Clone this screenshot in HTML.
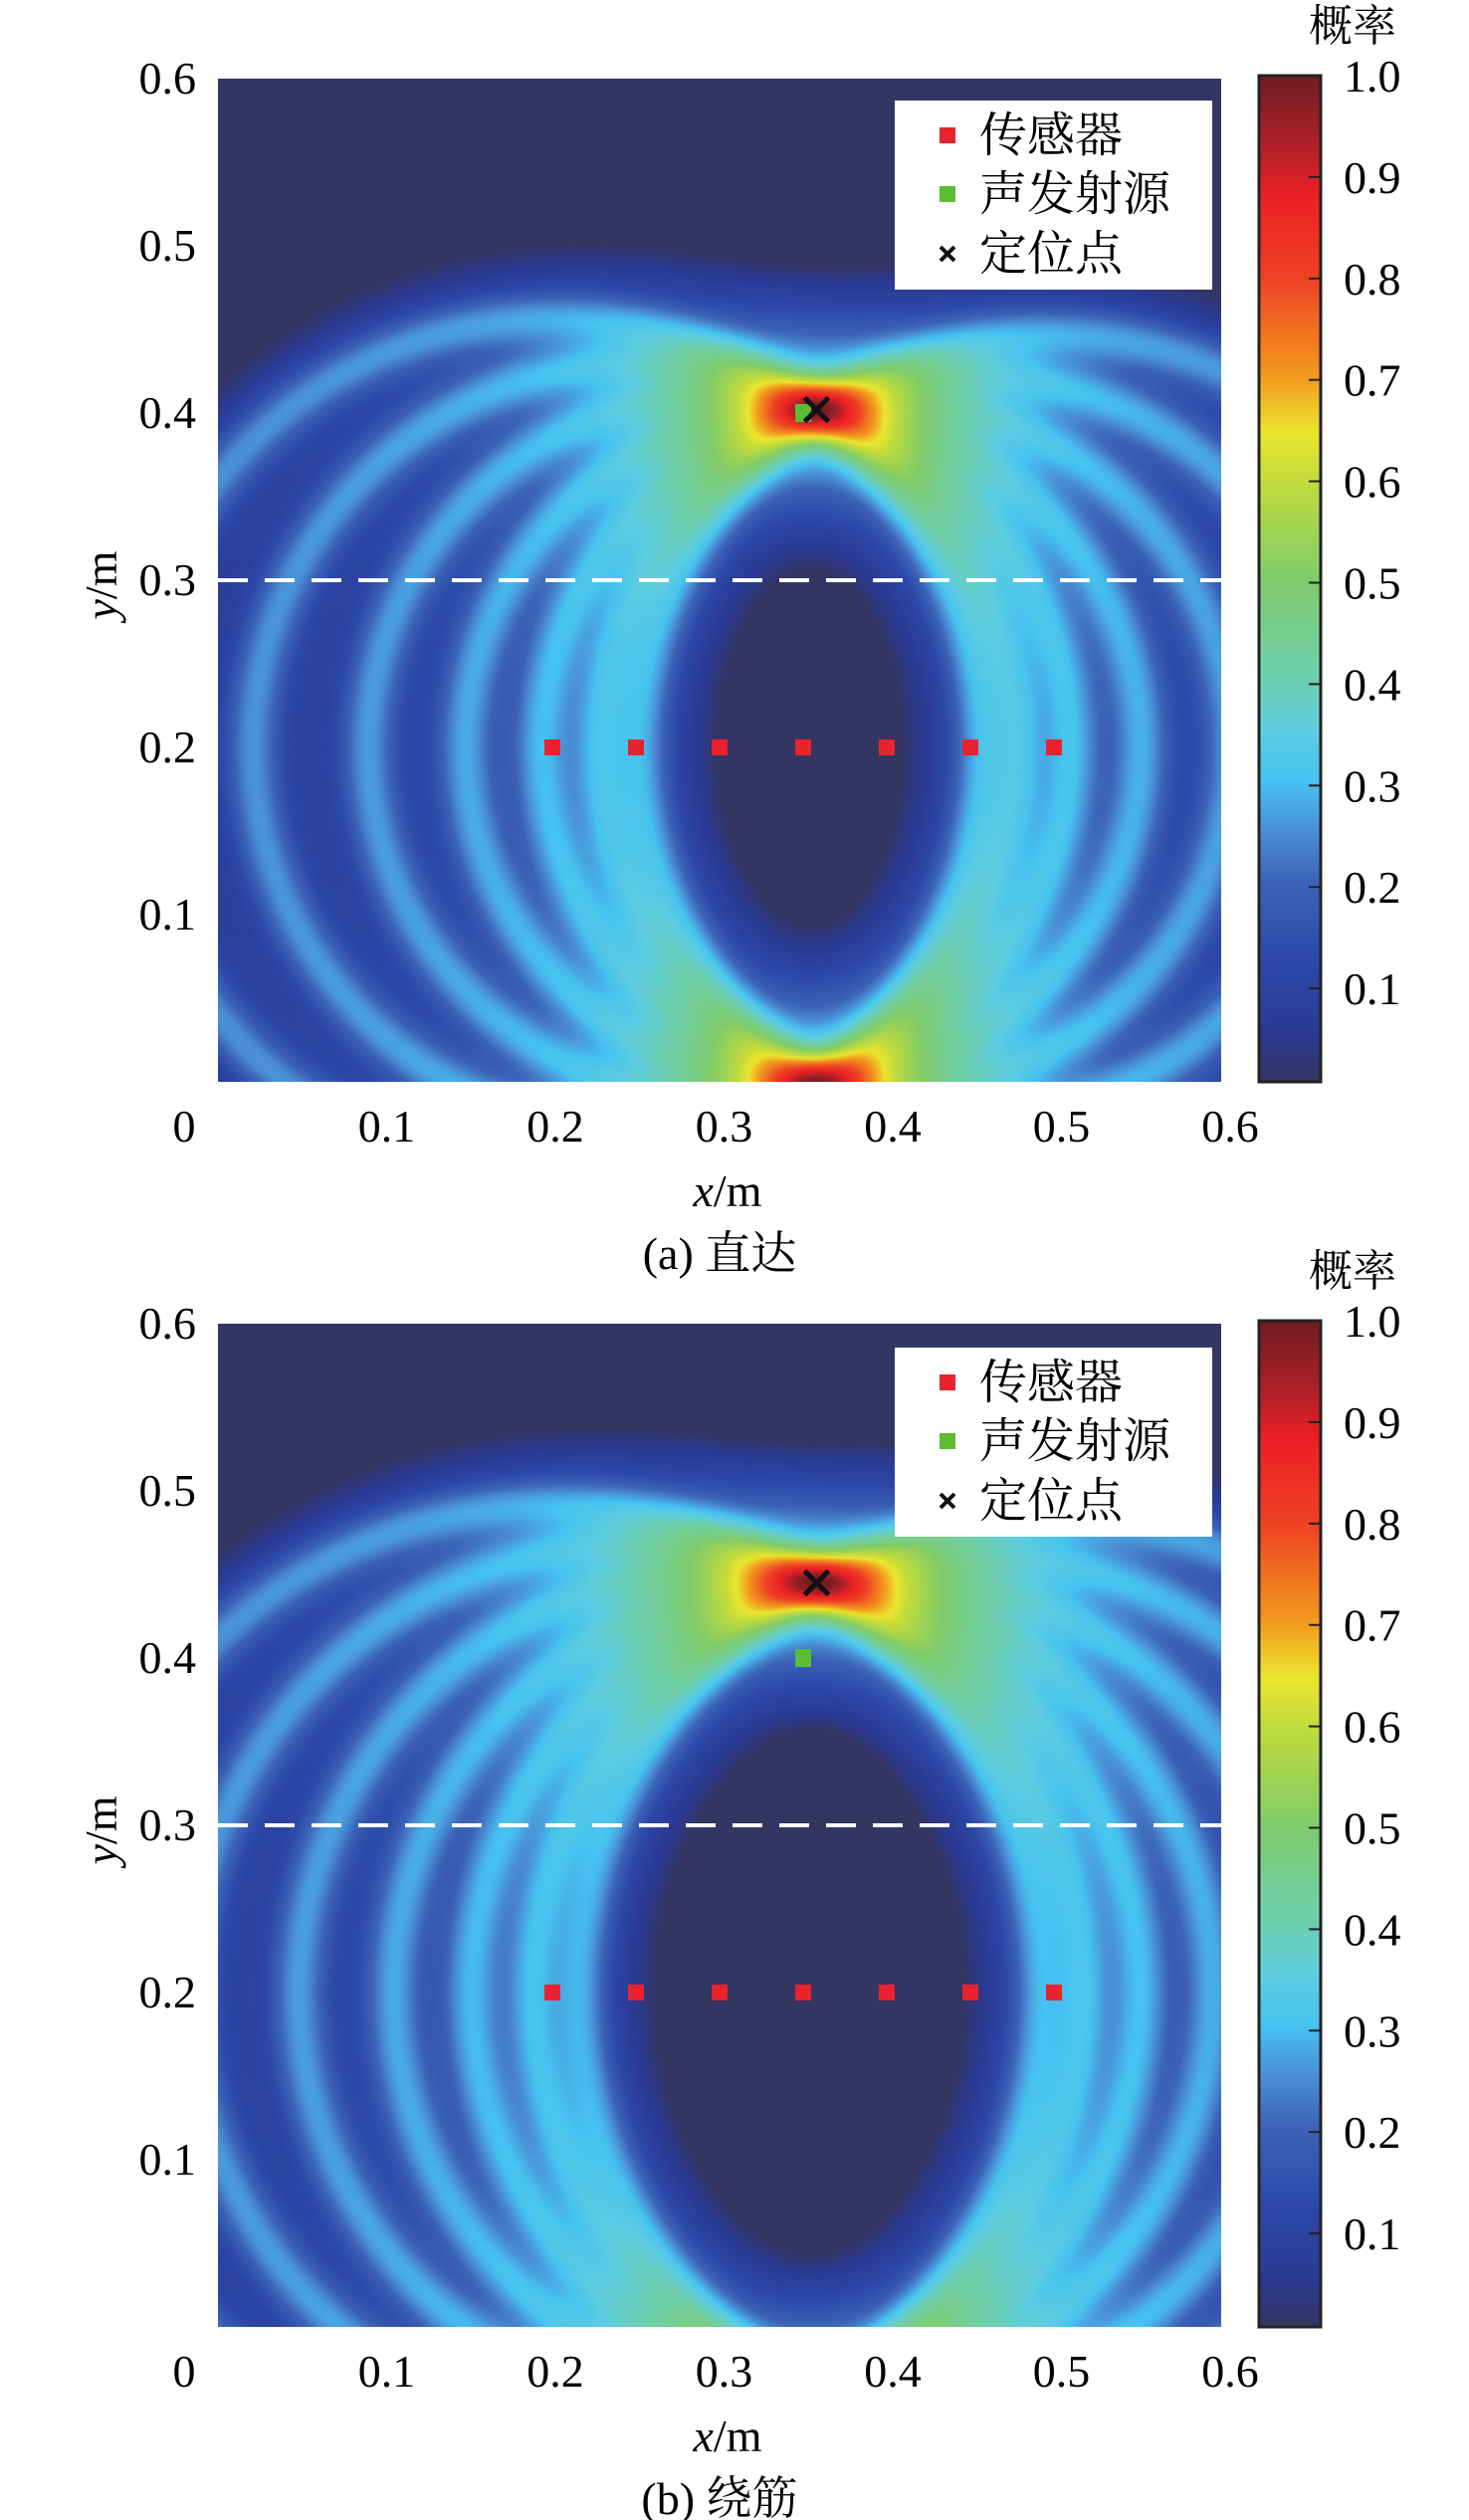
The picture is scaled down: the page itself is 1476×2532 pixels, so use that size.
<!DOCTYPE html>
<html><head><meta charset="utf-8">
<style>
html,body{margin:0;padding:0;background:#fff;}
#root{position:relative;width:1476px;height:2532px;overflow:hidden;background:#fff;font-family:"Liberation Serif","Noto Serif CJK SC",serif;color:#1a1a1a;}
canvas{position:absolute;}
svg{position:absolute;left:0;top:0;}
</style></head>
<body>
<div id="root">
<canvas id="hm1" width="504" height="504" style="left:219px;top:79px;width:1008px;height:1008px"></canvas>
<canvas id="hm2" width="504" height="504" style="left:219px;top:1330px;width:1008px;height:1008px"></canvas>
<svg id="ov" width="1476" height="2532"></svg>
</div>
<script>
// ---- data ----
const sensorX = [0.20, 0.25, 0.30, 0.35, 0.40, 0.45, 0.50];
const sensorY = 0.20;
const sourceA = [0.35, 0.40];
const locatedA = [0.358, 0.402];
const sourceB = [0.35, 0.40];
const locatedB = [0.358, 0.445];
const xTicks = [0.1, 0.2, 0.3, 0.4, 0.5, 0.6];
const yTicks = [0.1, 0.2, 0.3, 0.4, 0.5, 0.6];
const cbTicks = [0.1, 0.2, 0.3, 0.4, 0.5, 0.6, 0.7, 0.8, 0.9, 1.0];
const dashY = 0.3;
const captions = ["(a) 直达", "(b) 绕筋"];
const legendLabels = ["传感器", "声发射源", "定位点"];

const cmap = [
 [0.00,51,53,98],[0.05,42,58,148],[0.12,44,72,168],[0.20,60,100,184],[0.25,74,143,214],
 [0.30,70,195,240],[0.35,94,205,224],[0.40,109,207,176],[0.50,128,204,106],[0.60,196,220,58],
 [0.645,235,230,46],[0.70,243,154,30],[0.80,238,64,36],[0.88,236,32,36],[0.93,176,32,40],[1.00,110,28,34]];
function col(v){
  v=Math.max(0,Math.min(1,v));
  for(let i=1;i<cmap.length;i++){ if(v<=cmap[i][0]){const a=cmap[i-1],b=cmap[i],t=(v-a[0])/(b[0]-a[0]);
    return [a[1]+(b[1]-a[1])*t,a[2]+(b[2]-a[2])*t,a[3]+(b[3]-a[3])*t];}}
  return cmap[cmap.length-1].slice(1);
}
const PX=219, SCALE=1680;
const tops=[79,1330];
function sx(x){return PX+x*SCALE;}
function sy(y,p){return tops[p]+1008-y*SCALE;}

function drawHeat(id, loc){
  const c=document.getElementById(id),ctx=c.getContext('2d');
  const W=c.width,H=c.height,img=ctx.createImageData(W,H);
  const radii=sensorX.map(s=>Math.hypot(loc[0]-s,loc[1]-sensorY));
  const s1=0.011,s2=0.035;
  for(let j=0;j<H;j++){
    const y=(H-j-0.5)/H*0.6;
    for(let i=0;i<W;i++){
      const x=(i+0.5)/W*0.6;
      let f=0;
      for(let k=0;k<sensorX.length;k++){
        const d=Math.hypot(x-sensorX[k],y-sensorY)-radii[k];
        f+=0.78*Math.exp(-d*d/(2*s1*s1))+0.22*Math.exp(-d*d/(2*s2*s2));
      }
      f/=sensorX.length;
      f=Math.max(0,f-0.018)/0.982;
      const v=Math.pow(f,0.68);
      const cc=col(v),o=(j*W+i)*4;
      img.data[o]=cc[0];img.data[o+1]=cc[1];img.data[o+2]=cc[2];img.data[o+3]=255;
    }
  }
  ctx.putImageData(img,0,0);
}
drawHeat('hm1',locatedA);
drawHeat('hm2',locatedB);

const NS='http://www.w3.org/2000/svg';
const svg=document.getElementById('ov');
function el(tag,attrs,parent){const e=document.createElementNS(NS,tag);for(const k in attrs)e.setAttribute(k,attrs[k]);(parent||svg).appendChild(e);return e;}
function txt(s,attrs,parent){const e=el('text',attrs,parent);e.textContent=s;return e;}

const defs=el('defs',{});
const lg=el('linearGradient',{id:'cbg',x1:0,y1:1,x2:0,y2:0},defs);
cmap.forEach(s=>{el('stop',{offset:s[0],'stop-color':`rgb(${s[1]|0},${s[2]|0},${s[3]|0})`},lg);});

[0,1].forEach(p=>{
  const g=el('g',{});
  
  
  const off=tops[p];
  const dl=el('line',{x1:219,x2:1227,y1:sy(dashY,p),y2:sy(dashY,p),stroke:'#fff','stroke-width':4,'stroke-dasharray':'30 17'},g);
  
  
  sensorX.forEach((x,i)=>{
    const r=el('rect',{x:sx(x)-8,y:sy(sensorY,p)-8,width:16,height:16,fill:'#e8232e'},g);
    
    
  });
  const src=p===0?sourceA:sourceB, loc=p===0?locatedA:locatedB;
  const sr=el('rect',{x:sx(src[0])-8,y:sy(src[1],p)-9,width:16,height:18,fill:'#5abd34'},g);
  
  
  const lx=sx(loc[0]),ly=sy(loc[1],p);
  const xm=el('path',{d:`M${lx-12},${ly-12}L${lx+12},${ly+12}M${lx-12},${ly+12}L${lx+12},${ly-12}`,stroke:'#111','stroke-width':5},g);
  
  
  yTicks.forEach(v=>{
    const t=txt(v.toFixed(1),{x:197,y:sy(v,p)+15,'font-size':46,'text-anchor':'end'},g);
    
    
  });
  const z=txt('0',{x:185,y:off+1068,'font-size':46,'text-anchor':'middle'},g);
  
  
  xTicks.forEach(v=>{
    const t=txt(v.toFixed(1),{x:PX+v*1695,y:off+1068,'font-size':46,'text-anchor':'middle'},g);
    
    
  });
  const xl=el('text',{x:731,y:off+1133,'font-size':46,'text-anchor':'middle'},g);
  xl.innerHTML='<tspan font-style="italic">x</tspan>/m';
  
  
  const yl=el('text',{x:0,y:0,'font-size':46,'text-anchor':'middle',transform:`translate(117,${off+509}) rotate(-90)`},g);
  yl.innerHTML='<tspan font-style="italic">y</tspan>/m';
  
  
  const cap=txt(captions[p],{x:723,y:off+1196,'font-size':46,'text-anchor':'middle'},g);
  
  
  const cbTop=off-3, cbBot=off+1008;
  const cb=el('rect',{x:1265,y:cbTop,width:62,height:cbBot-cbTop,fill:'url(#cbg)',stroke:'#222','stroke-width':3},g);
  
  
  const cby=v=>cbTop+(1-v)*1019;
  cbTicks.forEach(v=>{
    if(v<1){const tl=el('line',{x1:1315,x2:1327,y1:cby(v),y2:cby(v),stroke:'#222','stroke-width':2},g);
      
      }
    const t=txt(v.toFixed(1),{x:1350,y:cby(v)+16,'font-size':46},g);
    
    
  });
  const ct=txt('概率',{x:1359,y:off-38,'font-size':44,'text-anchor':'middle'},g);
  
  
  const lgY=p===0?101:1354;
  const lgG=el('g',{},g);
  
  
  el('rect',{x:899,y:lgY,width:319,height:190,fill:'#fff'},lgG);
  const rowY=[lgY+35,lgY+94,lgY+154];
  el('rect',{x:944,y:rowY[0]-8,width:16,height:16,fill:'#e8232e'},lgG);
  el('rect',{x:944,y:rowY[1]-8,width:16,height:16,fill:'#5abd34'},lgG);
  el('path',{d:`M${945},${rowY[2]-7}L${959},${rowY[2]+7}M${945},${rowY[2]+7}L${959},${rowY[2]-7}`,stroke:'#111','stroke-width':4},lgG);
  legendLabels.forEach((s,i)=>{
    const t=txt(s,{x:984,y:rowY[i]+16,'font-size':48,'font-family':'"Noto Serif CJK SC","Noto Sans CJK SC",serif'},lgG);
    
    
  });
});
</script>
</body></html>
